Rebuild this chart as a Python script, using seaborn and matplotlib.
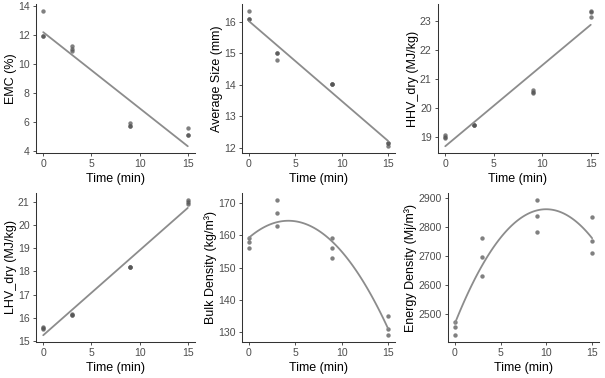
import numpy as np
import pandas as pd
import matplotlib.pyplot as plt
import seaborn as sns

# time points (three replicates each)
time = [0, 0, 0, 3, 3, 3, 9, 9, 9, 15, 15, 15]

emc = [13.65, 11.95, 11.9, 11.25, 11.0, 10.9, 5.95, 5.75, 5.75, 5.6, 5.1, 5.1]
avg_size = [16.35, 16.08, 16.08, 15.0, 15.0, 14.8, 14.02, 14.02, 14.02, 12.15, 12.15, 12.05]
hhv_dry = [19.08, 19.0, 18.95, 19.42, 19.42, 19.42, 20.62, 20.55, 20.5, 23.35, 23.3, 23.15]
lhv_dry = [15.6, 15.55, 15.52, 16.15, 16.1, 16.1, 18.2, 18.2, 18.2, 21.1, 21.0, 20.9]
bulk_density = [159, 158, 156, 171, 167, 163, 159, 156, 153, 135, 131, 129]
energy_density = [2472, 2455, 2425, 2760, 2695, 2630, 2893, 2838, 2783, 2835, 2752, 2710]

df = pd.DataFrame({
    'time': time, 'emc': emc, 'size': avg_size, 'hhv': hhv_dry,
    'lhv': lhv_dry, 'bulk': bulk_density, 'energy': energy_density,
})

panels = [
    ('emc', 'EMC (%)', 1, [4, 6, 8, 10, 12, 14]),
    ('size', 'Average Size (mm)', 1, [12, 13, 14, 15, 16]),
    ('hhv', 'HHV_dry (MJ/kg)', 1, [19, 20, 21, 22, 23]),
    ('lhv', 'LHV_dry (MJ/kg)', 1, [15, 16, 17, 18, 19, 20, 21]),
    ('bulk', 'Bulk Density (kg/m³)', 2, [130, 140, 150, 160, 170]),
    ('energy', 'Energy Density (Mj/m³)', 2, [2500, 2600, 2700, 2800, 2900]),
]

sns.set_theme(style="ticks")
plt.rcParams['font.family'] = ['Liberation Sans', 'DejaVu Sans']
plt.rcParams['axes.linewidth'] = 0.75
plt.rcParams['axes.edgecolor'] = '#333333'
plt.rcParams['xtick.color'] = '#333333'
plt.rcParams['ytick.color'] = '#333333'
plt.rcParams['xtick.labelcolor'] = '#4d4d4d'
plt.rcParams['ytick.labelcolor'] = '#4d4d4d'
plt.rcParams['xtick.major.size'] = 2.5
plt.rcParams['ytick.major.size'] = 2.5
plt.rcParams['xtick.major.width'] = 0.6
plt.rcParams['ytick.major.width'] = 0.6

W, H = 605, 378
fig = plt.figure(figsize=(W / 100, H / 100), dpi=100)

# panel boxes in pixels: left, right, top, bottom
boxes = [
    (36, 195, 4, 153), (242, 395, 4, 153), (438, 598, 4, 153),
    (36, 195, 193, 342), (242, 395, 193, 342), (448, 599, 193, 342),
]

for (col, label, order, yt), (l, r, t, b) in zip(panels, boxes):
    ax = fig.add_axes([l / W, 1 - b / H, (r - l) / W, (b - t) / H])
    sns.regplot(data=df, x='time', y=col, order=order, ci=None, ax=ax,
                scatter_kws=dict(s=10, color='#555555', alpha=0.75, linewidths=0),
                line_kws=dict(color='#8c8c8c', lw=1.3))
    ax.set_xticks([0, 5, 10, 15])
    ax.set_yticks(yt)
    ax.tick_params(labelsize=7.6, pad=2)
    ax.set_xlabel('Time (min)', fontsize=9, color='black', labelpad=3)
    ax.set_ylabel(label, fontsize=9, color='black', labelpad=1)
    sns.despine(ax=ax)

fig.savefig('out.png', dpi=100)
